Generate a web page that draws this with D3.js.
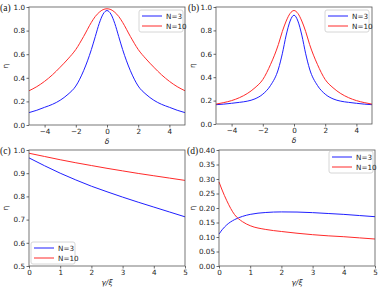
<!DOCTYPE html>
<html>
<head>
<meta charset="utf-8">
<script src="https://cdn.jsdelivr.net/npm/d3@7"></script>
<style>
  body { margin: 0; background: #fff; }
  svg { display: block; }
  .tick text { font-family: "DejaVu Sans", sans-serif; font-size: 7.2px; fill: #222; }
</style>
</head>
<body>
<script>
// panel (a), (b): detuning delta
var deltaA = [-5, -4.5, -4, -3.5, -3, -2.5, -2, -1.5, -1, -0.75, -0.5, -0.25, 0, 0.25, 0.5, 0.75, 1, 1.5, 2, 2.5, 3, 3.5, 4, 4.5, 5];
var aN3 = [0.105, 0.125, 0.15, 0.175, 0.21, 0.26, 0.33, 0.46, 0.64, 0.75, 0.86, 0.94, 0.97, 0.94, 0.86, 0.75, 0.64, 0.46, 0.33, 0.26, 0.21, 0.175, 0.15, 0.125, 0.105];
var aN10 = [0.29, 0.325, 0.37, 0.425, 0.49, 0.56, 0.64, 0.75, 0.87, 0.92, 0.955, 0.978, 0.985, 0.978, 0.955, 0.92, 0.87, 0.75, 0.64, 0.56, 0.49, 0.425, 0.37, 0.325, 0.29];
var bN3 = [0.165, 0.17, 0.177, 0.185, 0.195, 0.215, 0.255, 0.33, 0.47, 0.6, 0.76, 0.88, 0.93, 0.88, 0.76, 0.6, 0.47, 0.33, 0.255, 0.215, 0.195, 0.185, 0.177, 0.17, 0.165];
var bN10 = [0.17, 0.183, 0.2, 0.225, 0.26, 0.31, 0.38, 0.51, 0.68, 0.79, 0.88, 0.945, 0.97, 0.945, 0.88, 0.79, 0.68, 0.51, 0.38, 0.31, 0.26, 0.225, 0.2, 0.183, 0.17];

// panel (c), (d): gamma / xi
var gammaC = [0, 0.5, 1, 1.5, 2, 2.5, 3, 3.5, 4, 4.5, 5];
var cN3 = [0.966, 0.932, 0.90, 0.871, 0.844, 0.82, 0.797, 0.775, 0.754, 0.733, 0.712];
var cN10 = [0.986, 0.972, 0.958, 0.945, 0.933, 0.921, 0.91, 0.899, 0.889, 0.879, 0.869];
var gammaD = [0, 0.1, 0.25, 0.5, 0.75, 1, 1.5, 2, 2.5, 3, 3.5, 4, 4.5, 5];
var dN3 = [0.11, 0.125, 0.142, 0.16, 0.171, 0.178, 0.1845, 0.1865, 0.186, 0.184, 0.181, 0.178, 0.174, 0.17];
var dN10 = [0.29, 0.262, 0.225, 0.177, 0.153, 0.139, 0.126, 0.119, 0.113, 0.108, 0.104, 0.101, 0.097, 0.093];

var seriesNames = ["N=3", "N=10"];
var seriesColors = ["#1f1fff", "#ff2a2a"];

var ticksAB = [-4, -2, 0, 2, 4];
var ticksCD = [0, 1, 2, 3, 4, 5];

var svg = d3.select("body").append("svg")
    .attr("width", 381)
    .attr("height", 290);

function drawPanel(p) {
    var g = svg.append("g");

    var x = d3.scaleLinear().domain(p.xDomain).range([p.left, p.right]);
    var y = d3.scaleLinear().domain(p.yDomain).range([p.bottom, p.top]);

    var line = d3.line()
        .x(function (d) { return x(d[0]); })
        .y(function (d) { return y(d[1]); })
        .curve(d3.curveMonotoneX);

    p.series.forEach(function (s, i) {
        g.append("path")
            .datum(p.xs.map(function (v, j) { return [v, s[j]]; }))
            .attr("fill", "none")
            .attr("stroke", seriesColors[i])
            .attr("stroke-width", 1)
            .attr("d", line);
    });

    // frame
    g.append("rect")
        .attr("x", p.left).attr("y", p.top)
        .attr("width", p.right - p.left).attr("height", p.bottom - p.top)
        .attr("fill", "none").attr("stroke", "#555").attr("stroke-width", 0.8);

    var xa = g.append("g")
        .attr("transform", "translate(0," + p.bottom + ")")
        .call(d3.axisBottom(x).tickValues(p.xTicks).tickSize(2.5).tickPadding(1.5)
            .tickFormat(function (d) { return d < 0 ? "\u2212" + Math.abs(d) : d; }));
    var ya = g.append("g")
        .attr("transform", "translate(" + p.left + ",0)")
        .call(d3.axisLeft(y).tickValues(p.yTicks).tickSize(2.5).tickPadding(1.5)
            .tickFormat(d3.format(p.yFormat)));
    [xa, ya].forEach(function (a) {
        a.select(".domain").remove();
        a.selectAll(".tick line").attr("stroke", "#444").attr("stroke-width", 0.8);
    });

    g.append("text")
        .attr("x", (p.left + p.right) / 2).attr("y", p.bottom + 19)
        .attr("text-anchor", "middle")
        .style("font-family", "DejaVu Sans, sans-serif").style("font-size", "7.5px")
        .style("font-style", "italic").attr("fill", "#222")
        .text(p.xLabel);

    g.append("text")
        .attr("transform", "translate(" + (p.left - p.yLabelOff) + "," + ((p.top + p.bottom) / 2) + ") rotate(-90)")
        .attr("text-anchor", "middle")
        .style("font-family", "DejaVu Sans, sans-serif").style("font-size", "7.5px")
        .attr("fill", "#222")
        .text("\u03b7");

    g.append("text")
        .attr("x", p.labelX).attr("y", p.top + 3.5)
        .style("font-family", "Liberation Serif, serif").style("font-size", "9.5px")
        .attr("fill", "#111")
        .text(p.label);

    // legend
    var lg = g.append("g").attr("transform", "translate(" + p.legend[0] + "," + p.legend[1] + ")");
    lg.append("rect")
        .attr("width", 44).attr("height", 22).attr("rx", 2)
        .attr("fill", "#fff").attr("stroke", "#ccc").attr("stroke-width", 0.8);
    seriesNames.forEach(function (n, i) {
        lg.append("line")
            .attr("x1", 3).attr("x2", 23)
            .attr("y1", 6 + i * 10).attr("y2", 6 + i * 10)
            .attr("stroke", seriesColors[i]).attr("stroke-width", 1);
        lg.append("text")
            .attr("x", 27).attr("y", 8.7 + i * 10)
            .style("font-family", "DejaVu Sans, sans-serif").style("font-size", "7.2px")
            .attr("fill", "#222")
            .text(n);
    });
}

drawPanel({ label: "(a)", labelX: 0, left: 29, right: 185, top: 7, bottom: 125,
    xDomain: [-5, 5], yDomain: [0, 1], xs: deltaA, series: [aN3, aN10],
    xTicks: ticksAB, yTicks: [0, 0.2, 0.4, 0.6, 0.8, 1.0], yFormat: ".1f",
    xLabel: "\u03b4", yLabelOff: 21, legend: [139, 10] });

drawPanel({ label: "(b)", labelX: 188, left: 216, right: 372, top: 7, bottom: 124,
    xDomain: [-5, 5], yDomain: [0, 1], xs: deltaA, series: [bN3, bN10],
    xTicks: ticksAB, yTicks: [0, 0.2, 0.4, 0.6, 0.8, 1.0], yFormat: ".1f",
    xLabel: "\u03b4", yLabelOff: 21, legend: [325, 10] });

drawPanel({ label: "(c)", labelX: 0, left: 29, right: 185, top: 150, bottom: 266,
    xDomain: [0, 5], yDomain: [0.5, 1], xs: gammaC, series: [cN3, cN10],
    xTicks: ticksCD, yTicks: [0.5, 0.6, 0.7, 0.8, 0.9, 1.0], yFormat: ".1f",
    xLabel: "\u03b3/\u03be", yLabelOff: 21, legend: [31, 242] });

drawPanel({ label: "(d)", labelX: 187, left: 219, right: 375, top: 150, bottom: 266,
    xDomain: [0, 5], yDomain: [0, 0.4], xs: gammaD, series: [dN3, dN10],
    xTicks: ticksCD, yTicks: [0, 0.05, 0.1, 0.15, 0.2, 0.25, 0.3, 0.35, 0.4], yFormat: ".2f",
    xLabel: "\u03b3/\u03be", yLabelOff: 24, legend: [329, 151] });
</script>
</body>
</html>
